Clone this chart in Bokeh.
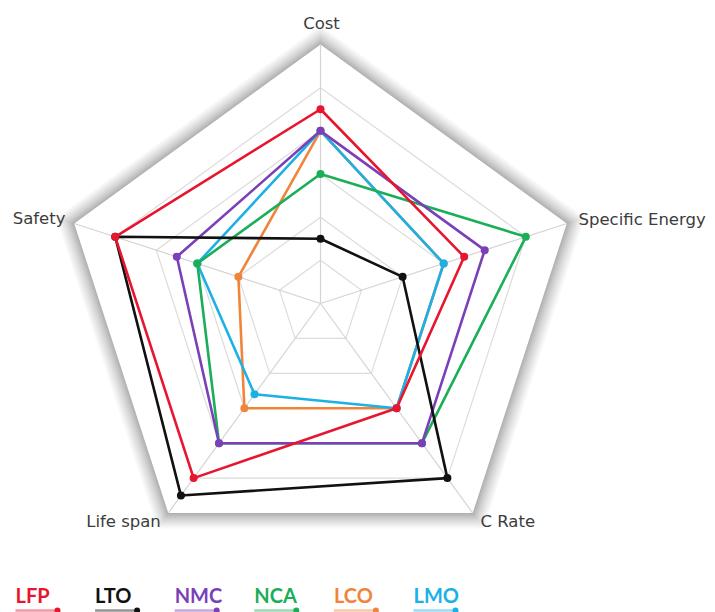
import numpy as np
from bokeh.plotting import figure
from bokeh.models import Range1d
from bokeh.core.properties import value
from bokeh.embed import file_html
from bokeh.resources import INLINE

# ---- data (scale 0..6, six grid rings) ----
axes_labels = ["Cost", "Specific Energy", "C Rate", "Life span", "Safety"]
series_names = ["LFP", "LTO", "NMC", "NCA", "LCO", "LMO"]
LFP = [4.5, 3.5, 3.0, 5.0, 5.0]
LTO = [1.5, 2.0, 5.0, 5.5, 5.0]
NMC = [4.0, 4.0, 4.0, 4.0, 3.5]
NCA = [3.0, 5.0, 4.0, 4.0, 3.0]
LCO = [4.0, 3.0, 3.0, 3.0, 2.0]
LMO = [4.0, 3.0, 3.0, 2.6, 3.0]
max_value = 6.0
ring_levels = [1, 2, 3, 4, 5, 6]

colors = {"LFP": "#e8152f", "LTO": "#111111", "NMC": "#7b3fb8",
          "NCA": "#1aae57", "LCO": "#f0843a", "LMO": "#1cb1e6"}
series = {"LFP": LFP, "LTO": LTO, "NMC": NMC, "NCA": NCA, "LCO": LCO, "LMO": LMO}

W, H = 715, 612
CX, CY, R = 320.0, 303.0, 259.0

def px(x):  # pixel x -> data
    return (x - CX) / R

def py(y):  # pixel y -> data
    return (CY - y) / R

angles = np.pi / 2 - np.arange(5) * 2 * np.pi / 5

def poly(vals, scale=1.0):
    v = np.asarray(vals, dtype=float) / max_value * scale
    return v * np.cos(angles), v * np.sin(angles)

p = figure(width=W, height=H, output_backend="svg", toolbar_location=None,
           x_range=Range1d(px(0), px(W)), y_range=Range1d(py(H), py(0)),
           min_border=0)
p.axis.visible = False
p.grid.visible = False
p.outline_line_color = None
p.background_fill_color = "white"

# soft glow / shadow around the outer pentagon
full = [max_value] * 5
N = 22
for k in range(N, 0, -1):
    spread = 0.075 * (k / N) ** 1.4
    xs, ys = poly(full, 1.0 + spread)
    p.patch(xs, ys, fill_color="black", fill_alpha=0.017, line_color=None)

xs, ys = poly(full)
p.patch(xs, ys, fill_color="white", line_color=None)

# inner rings
for lev in ring_levels[:-1]:
    xs, ys = poly([lev] * 5)
    p.patch(xs, ys, fill_color=None, line_color="#dcdcdc", line_width=1.2)

# spokes
for a in angles:
    p.line([0, np.cos(a)], [0, np.sin(a)], line_color="#d4d4d4", line_width=1.2)

# series
draw_order = ["LCO", "LMO", "NCA", "NMC", "LTO", "LFP"]
for name in draw_order:
    xs, ys = poly(series[name])
    p.line(list(xs) + [xs[0]], list(ys) + [ys[0]], line_color=colors[name],
           line_width=2.6, line_join="round")
    p.scatter(xs, ys, size=8, fill_color=colors[name], line_color=None)

# axis labels
lab_font = value("DejaVu Sans")
lab_pos = [(321, 23, "center"), (578, 219, "left"), (480, 521, "left"),
           (123, 521, "center"), (65, 218, "right")]
for lab, (x, y, al) in zip(axes_labels, lab_pos):
    p.text([px(x)], [py(y)], text=[lab], text_font=lab_font, text_font_size="16.5px",
           text_color="#3c3c3c", text_align=al, text_baseline="middle")

# legend
leg_font = value("Lato")
for i, name in enumerate(series_names):
    x0 = 15 + i * 79.6
    p.text([px(x0)], [py(594)], text=[name], text_font=leg_font, text_font_size="20px",
           text_font_style="bold", text_color=colors[name], text_align="left",
           text_baseline="middle")
    p.line([px(x0), px(x0 + 42)], [py(610), py(610)], line_color=colors[name],
           line_alpha=0.45, line_width=2.5)
    p.scatter([px(x0 + 42)], [py(610)], size=6, fill_color=colors[name], line_color=None)

open("out.html", "w").write(file_html(p, INLINE))
